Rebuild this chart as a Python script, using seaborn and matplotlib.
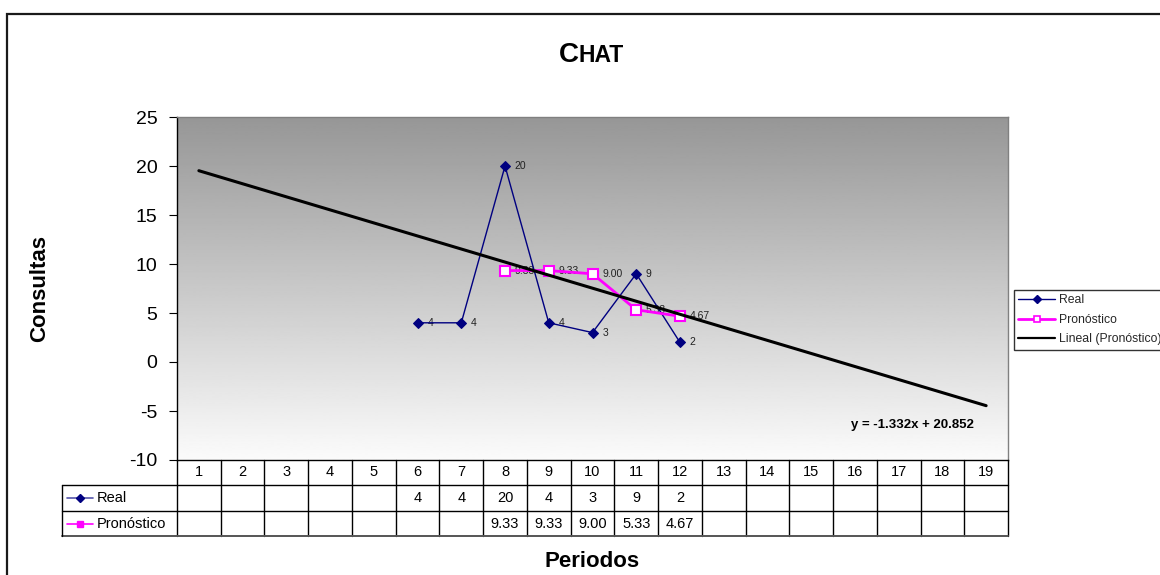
import numpy as np
import pandas as pd
import matplotlib
matplotlib.use("Agg")
import matplotlib.pyplot as plt
import seaborn as sns
from matplotlib.lines import Line2D
from matplotlib.patches import Rectangle
from matplotlib.transforms import blended_transform_factory

# ---- data ---------------------------------------------------------------
periods = list(range(1, 20))
real_periods = [6, 7, 8, 9, 10, 11, 12]
real_values = [4, 4, 20, 4, 3, 9, 2]
forecast_periods = [8, 9, 10, 11, 12]
forecast_values = [9.33, 9.33, 9.00, 5.33, 4.67]
trend_slope = -1.332
trend_intercept = 20.852
y_ticks = [-10, -5, 0, 5, 10, 15, 20, 25]

title_text = "Chat"
x_label = "Periodos"
y_label = "Consultas"
series_names = ["Real", "Pronóstico", "Lineal (Pronóstico)"]
equation_text = "y = -1.332x + 20.852"

REAL_COLOR = "#000080"
FC_COLOR = "#FF00FF"

sns.set_theme(style="white")
plt.rcParams["font.family"] = ["Liberation Sans", "DejaVu Sans"]

W, H = 1160, 575
fig = plt.figure(figsize=(W / 100, H / 100), dpi=100)
fig.patch.set_facecolor("white")

# plot area in pixel bounds
left_px, right_px, top_px, bottom_px = 177, 1008, 117, 460
ax = fig.add_axes([left_px / W, 1 - bottom_px / H,
                   (right_px - left_px) / W, (bottom_px - top_px) / H])

# gray (top) to near-white (bottom) gradient of the plot area
grad = np.linspace(0.59, 0.985, 256).reshape(-1, 1)
ax.imshow(grad, cmap="gray", vmin=0, vmax=1, aspect="auto", origin="upper",
          extent=[0, 1, 0, 1], transform=ax.transAxes, zorder=0)

df_real = pd.DataFrame({"Periodo": real_periods, "Valor": real_values})
df_fc = pd.DataFrame({"Periodo": forecast_periods, "Valor": forecast_values})
trend_y = [trend_slope * p + trend_intercept for p in periods]
df_trend = pd.DataFrame({"Periodo": periods, "Valor": trend_y})

sns.lineplot(data=df_real, x="Periodo", y="Valor", ax=ax, color=REAL_COLOR,
             lw=1.0, marker="D", markersize=5, markeredgecolor=REAL_COLOR,
             markerfacecolor=REAL_COLOR, zorder=4, legend=False)
sns.lineplot(data=df_fc, x="Periodo", y="Valor", ax=ax, color=FC_COLOR,
             lw=2.0, marker="s", markersize=7, markeredgecolor=FC_COLOR,
             markeredgewidth=1.5, markerfacecolor="white", zorder=5, legend=False)
sns.lineplot(data=df_trend, x="Periodo", y="Valor", ax=ax, color="black",
             lw=2.2, zorder=6, legend=False)

# data labels
for p, v in zip(real_periods, real_values):
    ax.annotate(f"{v}", (p, v), xytext=(7, 0), textcoords="offset points",
                ha="left", va="center", fontsize=7.5, color="#222222", zorder=3)
for p, v in zip(forecast_periods, forecast_values):
    ax.annotate(f"{v:.2f}", (p, v), xytext=(7, 0), textcoords="offset points",
                ha="left", va="center", fontsize=7.5, color="#222222", zorder=3)

ax.text(912 / W, 1 - 425 / H, equation_text, transform=fig.transFigure,
        ha="center", va="center", fontsize=9.5, fontweight="bold", color="black")

ax.set_xlim(0.5, 19.5)
ax.set_ylim(-10, 25)
ax.set_yticks(y_ticks)
ax.set_yticklabels([str(t) for t in y_ticks], fontsize=14)
ax.tick_params(axis="y", direction="out", length=6, width=0.8, pad=8,
               colors="black", left=True)
ax.set_xticks([])
ax.set_xlabel("")
ax.set_ylabel("")
for side in ["left", "bottom"]:
    ax.spines[side].set_color("black")
    ax.spines[side].set_linewidth(1.0)
for side in ["top", "right"]:
    ax.spines[side].set_color("#808080")
    ax.spines[side].set_linewidth(1.0)

# ---- data table under the axis -----------------------------------------
ax_h = bottom_px - top_px
ax_w = right_px - left_px
row_y = [0, -25 / ax_h, -51 / ax_h, -76 / ax_h]
label_x = (62 - left_px) / ax_w
bt = blended_transform_factory(ax.transData, ax.transAxes)
lkw = dict(color="black", lw=1.0, clip_on=False, zorder=10)

for b in np.arange(0.5, 20.0, 1.0):
    ax.add_line(Line2D([b, b], [row_y[0], row_y[3]], transform=bt, **lkw))
ax.add_line(Line2D([label_x, 1], [row_y[1], row_y[1]], transform=ax.transAxes, **lkw))
ax.add_line(Line2D([label_x, 1], [row_y[2], row_y[2]], transform=ax.transAxes, **lkw))
ax.add_line(Line2D([label_x, 1], [row_y[3], row_y[3]], transform=ax.transAxes,
                   color="#555555", lw=1.4, clip_on=False, zorder=10))
ax.add_line(Line2D([label_x, label_x], [row_y[1], row_y[3]], transform=ax.transAxes, **lkw))

hdr_y = (row_y[0] + row_y[1]) / 2
real_y = (row_y[1] + row_y[2]) / 2
fc_y = (row_y[2] + row_y[3]) / 2
for p in periods:
    ax.text(p, hdr_y, str(p), transform=bt, ha="center", va="center",
            fontsize=10.5, color="black", clip_on=False)
for p, v in zip(real_periods, real_values):
    ax.text(p, real_y, f"{v}", transform=bt, ha="center", va="center",
            fontsize=10.5, color="black", clip_on=False)
for p, v in zip(forecast_periods, forecast_values):
    ax.text(p, fc_y, f"{v:.2f}", transform=bt, ha="center", va="center",
            fontsize=10.5, color="black", clip_on=False)

# legend keys inside the row-label cells
key_x0 = (67 - left_px) / ax_w
key_x1 = (93 - left_px) / ax_w
key_xm = (key_x0 + key_x1) / 2
text_x = (97 - left_px) / ax_w
ax.add_line(Line2D([key_x0, key_x1], [real_y, real_y], transform=ax.transAxes,
                   color="#5555aa", lw=1.2, clip_on=False, zorder=11))
ax.add_line(Line2D([key_xm], [real_y], transform=ax.transAxes, marker="D",
                   markersize=4.5, color=REAL_COLOR, clip_on=False, zorder=12))
ax.add_line(Line2D([key_x0, key_x1], [fc_y, fc_y], transform=ax.transAxes,
                   color=FC_COLOR, lw=1.2, clip_on=False, zorder=11))
ax.add_line(Line2D([key_xm], [fc_y], transform=ax.transAxes, marker="s",
                   markersize=5, color=FC_COLOR, clip_on=False, zorder=12))
ax.text(text_x, real_y, series_names[0], transform=ax.transAxes, ha="left",
        va="center", fontsize=10.5, color="black", clip_on=False)
ax.text(text_x, fc_y, series_names[1], transform=ax.transAxes, ha="left",
        va="center", fontsize=10.5, color="black", clip_on=False)

# ---- legend on the right ------------------------------------------------
handles = [
    Line2D([], [], color=REAL_COLOR, lw=1.0, marker="D", markersize=4,
           markerfacecolor=REAL_COLOR, markeredgecolor=REAL_COLOR),
    Line2D([], [], color=FC_COLOR, lw=2.0, marker="s", markersize=5,
           markerfacecolor="white", markeredgecolor=FC_COLOR, markeredgewidth=1.2),
    Line2D([], [], color="black", lw=1.6),
]
leg = fig.legend(handles, series_names, loc="upper left",
                 bbox_to_anchor=(1014 / W, 1 - 290 / H),
                 bbox_transform=fig.transFigure, fontsize=8.8, frameon=True,
                 fancybox=False, shadow=False, handlelength=3.0,
                 handletextpad=0.3, labelspacing=0.62, borderpad=0.35,
                 borderaxespad=0)
leg.get_frame().set_edgecolor("black")
leg.get_frame().set_linewidth(1.0)
leg.get_frame().set_facecolor("white")

# ---- titles -------------------------------------------------------------
fig.text(40 / W, 1 - 288 / H, y_label, rotation=90, ha="center", va="center",
         fontsize=16, fontweight="bold", color="black")
fig.text(592 / W, 1 - 567 / H, x_label, ha="center", va="baseline",
         fontsize=16, fontweight="bold", color="black")

# small-caps title: full-size first letter, reduced capitals after it
renderer = fig.canvas.get_renderer()
t1 = fig.text(0, 1 - 62 / H, title_text[0].upper(), ha="left", va="baseline",
              fontsize=20, fontweight="bold", color="black")
t2 = fig.text(0, 1 - 62 / H, title_text[1:].upper(), ha="left", va="baseline",
              fontsize=16.5, fontweight="bold", color="black")
w1 = t1.get_window_extent(renderer).width
w2 = t2.get_window_extent(renderer).width
start = 591 - (w1 + w2) / 2
t1.set_x(start / W)
t2.set_x((start + w1) / W)

# outer chart border
fig.add_artist(Rectangle((7 / W, -0.2), 2.0, 1.2 - 14 / H, transform=fig.transFigure,
                         fill=False, edgecolor="#1a1a1a", lw=1.6, zorder=20))

fig.savefig("out.png", dpi=100)
